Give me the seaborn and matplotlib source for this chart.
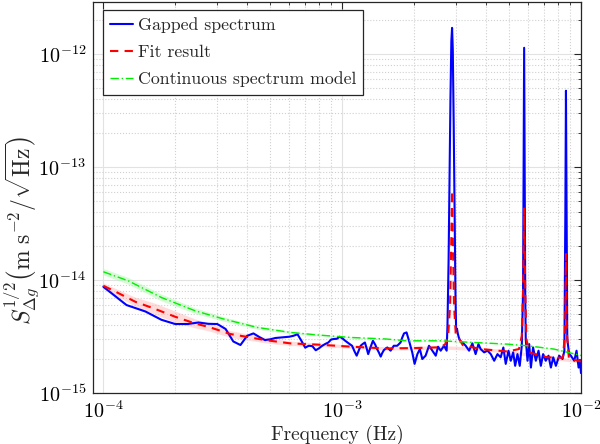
"""
Gapped spectrum vs. fit result and continuous spectrum model (ASD, log-log).
"""

import matplotlib
matplotlib.use("Agg")
import matplotlib.pyplot as plt
import matplotlib.ticker as mticker
import numpy as np
import pandas as pd
import seaborn as sns

# frequencies in mHz, amplitudes in units of 1e-15 m s^-2 / sqrt(Hz)
gap_freq = [
    0.100, 0.125, 0.150, 0.175, 0.200, 0.225, 0.250, 0.275, 0.300, 0.325,
    0.350, 0.375, 0.400, 0.425, 0.450, 0.475, 0.500, 0.525, 0.550, 0.575,
    0.600, 0.625, 0.650, 0.675, 0.700, 0.725, 0.750, 0.775, 0.800, 0.825,
    0.850, 0.875, 0.900, 0.925, 0.950, 0.975, 1.000, 1.030, 1.065, 1.100,
    1.125, 1.150, 1.175, 1.195, 1.220, 1.245, 1.265, 1.285, 1.315, 1.345,
    1.375, 1.400, 1.425, 1.450, 1.470, 1.495, 1.545, 1.595, 1.645, 1.700,
    1.755, 1.785, 1.815, 1.860, 1.905, 1.965, 2.010, 2.065, 2.115, 2.165,
    2.235, 2.310, 2.385, 2.465, 2.520, 2.585, 2.670, 2.738,
    2.760, 2.790, 2.815, 2.840, 2.865, 2.885, 2.905, 2.930, 2.955, 2.980,
    3.000, 3.025, 3.050, 3.080, 3.120, 3.190, 3.290, 3.400, 3.510, 3.620,
    3.720, 3.800, 3.930, 4.060, 4.190, 4.330, 4.470, 4.610, 4.730, 4.840,
    4.970, 5.080, 5.200, 5.300, 5.420, 5.540, 5.650,
    5.720, 5.750, 5.780, 5.810, 5.840, 5.870,
    5.970, 6.070, 6.170, 6.300, 6.470, 6.640, 6.790, 6.940, 7.120, 7.310,
    7.480, 7.650, 7.850, 8.100, 8.370, 8.520,
    8.600, 8.650, 8.700, 8.760,
    8.920, 9.070, 9.370, 9.580, 9.770, 9.900, 10.00,
]
gap_asd = [
    8.72, 6.01, 5.27, 4.45, 4.08, 4.08, 4.21, 4.10, 4.08, 3.69,
    2.86, 2.66, 3.21, 3.37, 3.13, 2.94, 2.99, 3.07, 3.10, 3.13,
    3.15, 3.21, 3.31, 2.90, 2.52, 2.62, 2.60, 2.39, 2.49, 2.62,
    2.72, 2.80, 2.98, 3.01, 3.02, 3.15, 3.06, 2.90, 2.75, 2.62,
    2.35, 2.14, 2.40, 2.62, 2.72, 2.80, 2.50, 2.21, 2.55, 2.90,
    2.68, 2.45, 2.28, 2.10, 2.25, 2.40, 2.53, 2.37, 2.62, 2.62,
    2.80, 3.10, 3.37, 3.44, 2.90, 2.29, 1.81, 2.21, 2.45, 2.00,
    2.14, 2.62, 2.37, 2.14, 2.57, 2.37, 2.62, 2.37,
    4.0, 15.0, 80.0, 400.0, 1300.0, 1710.0, 1100.0, 250.0, 40.0, 8.0,
    3.56, 3.71, 3.35, 3.09, 2.90, 2.80, 2.62, 2.37, 2.75, 2.21,
    2.71, 2.45, 2.29, 2.37, 2.21, 1.93, 2.21, 2.07, 2.53, 1.81,
    2.37, 1.93, 2.29, 1.74, 2.21, 1.74, 2.62,
    8.0, 100.0, 1140.0, 100.0, 8.0, 3.0,
    1.93, 2.71, 1.68, 2.53, 1.93, 2.37, 1.74, 2.21, 1.93, 2.14,
    1.68, 2.07, 1.74, 2.14, 2.00, 2.37,
    40.0, 475.0, 40.0, 3.0,
    2.21, 2.14, 1.93, 2.37, 1.68, 1.93, 1.50,
]

fit_freq = [
    0.100, 0.112, 0.136, 0.165, 0.200, 0.242, 0.280, 0.340, 0.477, 0.607,
    0.795, 1.100, 1.520, 2.000, 2.580, 2.700, 2.780, 2.830, 2.860, 2.885,
    2.910, 2.940, 2.990, 3.050, 3.200, 3.800, 4.920, 5.500, 5.650, 5.720,
    5.780, 5.840, 5.910, 6.050, 7.240, 8.400, 8.580, 8.650, 8.720, 8.900,
    10.00,
]
fit_asd = [
    8.90, 7.93, 6.43, 5.54, 4.73, 4.13, 3.81, 3.33, 2.94, 2.75,
    2.68, 2.57, 2.48, 2.50, 2.54, 2.70, 3.30, 6.0, 20.0, 62.0,
    20.0, 6.0, 3.30, 3.15, 2.65, 2.45, 2.33, 2.45, 3.20, 8.0,
    43.0, 8.0, 3.0, 2.29, 2.07, 2.05, 3.5, 17.0, 3.5, 2.02,
    1.90,
]

# confidence band of the fit (baseline only)
fit_band_freq = [0.100, 0.136, 0.165, 0.200, 0.242, 0.280, 0.340, 0.477, 0.607,
                 0.795, 1.100, 1.520, 2.000, 2.580, 3.800, 4.920, 7.240, 10.00]
fit_band_lo = [8.40, 5.86, 4.94, 4.22, 3.77, 3.52, 3.11, 2.78, 2.63,
               2.59, 2.48, 2.40, 2.42, 2.45, 2.37, 2.25, 2.00, 1.84]
fit_band_hi = [9.43, 7.05, 6.22, 5.31, 4.53, 4.13, 3.57, 3.11, 2.88,
               2.77, 2.66, 2.57, 2.59, 2.63, 2.54, 2.41, 2.14, 1.97]

model_freq = [0.100, 0.127, 0.175, 0.242, 0.319, 0.440, 0.607, 0.798, 1.100,
              1.520, 1.870, 2.580, 4.920, 5.970, 7.700, 10.00]
model_asd = [11.85, 9.86, 7.01, 5.35, 4.52, 3.81, 3.44, 3.26, 3.10,
             3.01, 2.90, 2.90, 2.71, 2.62, 2.45, 2.15]
model_lo = [11.11, 9.20, 6.54, 5.05, 4.32, 3.68, 3.36, 3.20, 3.06,
            2.98, 2.87, 2.87, 2.68, 2.59, 2.42, 2.13]
model_hi = [12.64, 10.56, 7.51, 5.67, 4.73, 3.94, 3.52, 3.32, 3.14,
            3.04, 2.93, 2.93, 2.74, 2.65, 2.48, 2.17]


def to_si(freq_mhz, asd):
    return np.asarray(freq_mhz) * 1e-3, np.asarray(asd) * 1e-15


sns.set_theme(style="white")
plt.rcParams["font.family"] = "serif"
plt.rcParams["font.serif"] = ["cmr10", "DejaVu Serif"]
plt.rcParams["mathtext.fontset"] = "cm"
plt.rcParams["axes.formatter.use_mathtext"] = True

fig = plt.figure(figsize=(6, 4.44), dpi=100)
ax = fig.add_axes([93 / 600, 1 - 393 / 444, 488 / 600, 391 / 444])

# shaded bands
f, lo = to_si(fit_band_freq, fit_band_lo)
_, hi = to_si(fit_band_freq, fit_band_hi)
ax.fill_between(f, lo, hi, color="#ffb3b3", alpha=0.45, lw=0)
f, lo = to_si(model_freq, model_lo)
_, hi = to_si(model_freq, model_hi)
ax.fill_between(f, lo, hi, color="#a8f5a8", alpha=0.45, lw=0)

f, s = to_si(gap_freq, gap_asd)
df_gap = pd.DataFrame({"f": f, "S": s})
f, s = to_si(fit_freq, fit_asd)
df_fit = pd.DataFrame({"f": f, "S": s})
f, s = to_si(model_freq, model_asd)
df_mod = pd.DataFrame({"f": f, "S": s})

sns.lineplot(data=df_gap, x="f", y="S", ax=ax, color="#0000ff", lw=1.5,
             estimator=None, sort=False, label="Gapped spectrum")
sns.lineplot(data=df_fit, x="f", y="S", ax=ax, color="#ff0000", lw=1.5,
             estimator=None, sort=False, label="Fit result",
             linestyle=(0, (4, 3)))
sns.lineplot(data=df_mod, x="f", y="S", ax=ax, color="#00ee00", lw=1.0,
             estimator=None, sort=False, label="Continuous spectrum model",
             linestyle=(0, (6, 2, 1, 2)))

ax.set_xscale("log")
ax.set_yscale("log")
ax.set_xlim(9.05e-5, 1e-2)
ax.set_ylim(1e-15, 2.9e-12)

ax.yaxis.set_major_locator(mticker.LogLocator(base=10, numticks=10))
ax.yaxis.set_minor_locator(mticker.LogLocator(base=10, subs=np.arange(2, 10), numticks=20))
ax.xaxis.set_minor_formatter(mticker.NullFormatter())
ax.yaxis.set_minor_formatter(mticker.NullFormatter())

ax.grid(True, which="major", color="#e2e2e2", linestyle="-", linewidth=0.8)
ax.grid(True, which="minor", color="#d0d0d0", linestyle=":", linewidth=0.8)
ax.set_axisbelow(True)

ax.tick_params(which="both", direction="in", top=True, right=True,
               colors="#262626", labelcolor="black", labelsize=14.5)
ax.tick_params(which="major", length=5, width=0.8, pad=5)
ax.tick_params(which="minor", length=2.5, width=0.6)
for sp in ax.spines.values():
    sp.set_color("#262626")
    sp.set_linewidth(0.9)

ax.set_xlabel("Frequency (Hz)", fontsize=14, labelpad=2)
ax.set_ylabel(r"$S_{\Delta g}^{1/2}\left(\mathrm{m\ s^{-2}}/\sqrt{\mathrm{Hz}}\right)$",
              fontsize=17)
ax.yaxis.set_label_coords(-0.106, 0.415)

leg = ax.legend(loc="upper left", bbox_to_anchor=(0.0205, 0.98),
                borderaxespad=0, fontsize=12.8, handlelength=1.3,
                handletextpad=0.25, labelspacing=0.66, borderpad=0.4,
                fancybox=False, framealpha=1)
leg.get_frame().set_edgecolor("#262626")
leg.get_frame().set_linewidth(0.9)

fig.savefig("out.png", dpi=100)
